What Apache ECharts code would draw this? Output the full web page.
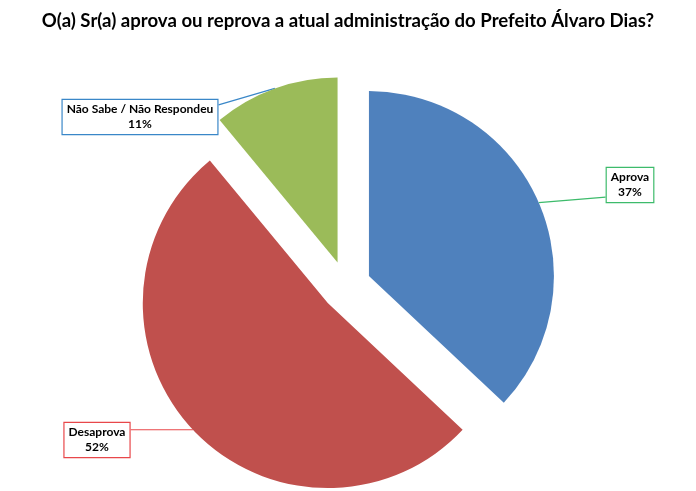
<!DOCTYPE html>
<html>
<head>
<meta charset="utf-8">
<script src="https://cdn.jsdelivr.net/npm/echarts@6/dist/echarts.min.js"></script>
<style>
  html, body { margin: 0; padding: 0; background: #fff; }
  #main { width: 696px; height: 491px; }
</style>
</head>
<body>
<div id="main"></div>
<script>
var chartTitle = 'O(a) Sr(a) aprova ou reprova a atual administração do Prefeito Álvaro Dias?';
var categories = ['Aprova', 'Desaprova', 'Não Sabe / Não Respondeu'];
var values = [37, 52, 11];
var sliceColors = ['#4f81bd', '#c0504d', '#9bbb59'];
var boxColors = ['#3dbb6b', '#e8474a', '#3a87c8'];
// centre of each callout box
var boxPos = [[630, 185], [97, 440], [140, 117]];

var myChart = echarts.init(document.getElementById('main'));

var pieCenter = [346, 286];
var explode = 25;
var total = 0;
values.forEach(function (v) { total += v; });

// one pie per slice, so each slice can be pushed out along its own mid angle
var series = [];
var cum = 0;
for (var k = 0; k < values.length; k++) {
  var mid = (cum + values[k] / 2) / total * 2 * Math.PI;
  cum += values[k];
  var cx = pieCenter[0] + explode * Math.sin(mid);
  var cy = pieCenter[1] - explode * Math.cos(mid);
  var data = [];
  for (var i = 0; i < categories.length; i++) {
    var own = i === k;
    data.push({
      name: categories[i],
      value: values[i],
      itemStyle: { color: own ? sliceColors[i] : 'rgba(0,0,0,0)' },
      label: { show: own, borderColor: boxColors[i] },
      labelLine: { show: own, lineStyle: { color: boxColors[i] } }
    });
  }
  series.push({
    type: 'pie',
    center: [cx, cy],
    radius: 185,
    startAngle: 90,
    clockwise: true,
    avoidLabelOverlap: false,
    silent: true,
    emphasis: { disabled: true },
    data: data,
    label: {
      position: 'outside',
      formatter: '{b}\n{c}%',
      fontFamily: 'Lato',
      fontWeight: 'bold',
      fontSize: 12,
      lineHeight: 15,
      color: '#000',
      backgroundColor: '#fff',
      borderWidth: 1.2,
      padding: [2, 4]
    },
    labelLine: { length: 10, length2: 10, lineStyle: { width: 1.2 } },
    labelLayout: function (params) {
      var p = boxPos[params.dataIndex];
      var r = params.labelRect;
      var a = params.labelLinePoints ? params.labelLinePoints[0] : [p[0], p[1]];
      var left = p[0] - r.width / 2, right = p[0] + r.width / 2;
      var top = p[1] - r.height / 2, bottom = p[1] + r.height / 2;
      var ex = a[0] < left ? left : right;
      var ey = Math.min(Math.max(a[1], top + 6), bottom - 6);
      return {
        x: p[0], y: p[1], align: 'center', verticalAlign: 'middle',
        labelLinePoints: [[a[0], a[1]], [(a[0] + ex) / 2, (a[1] + ey) / 2], [ex, ey]]
      };
    }
  });
}

var option = {
  animation: false,
  title: {
    text: chartTitle,
    left: 'center',
    top: 6,
    textStyle: { fontFamily: 'Lato', fontWeight: 'bold', fontSize: 18.6, color: '#000' }
  },
  series: series
};

myChart.setOption(option);
</script>
</body>
</html>
